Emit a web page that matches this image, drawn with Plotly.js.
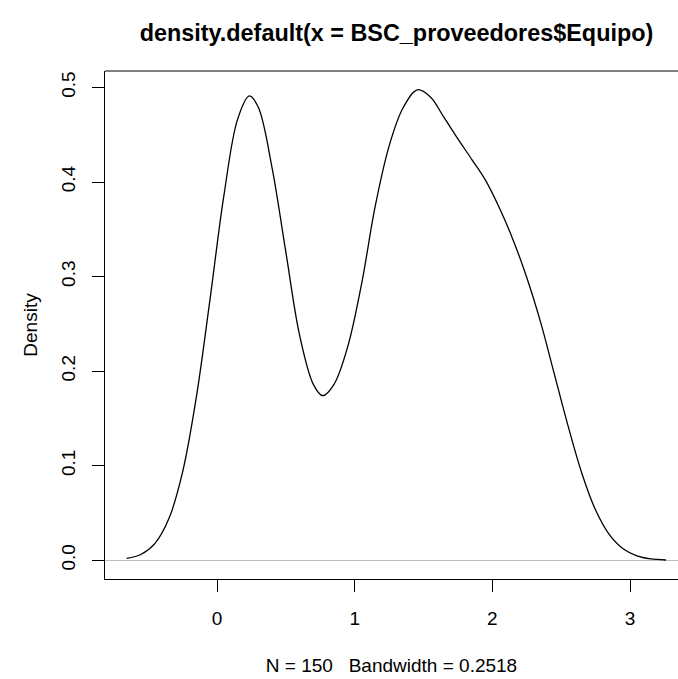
<!DOCTYPE html>
<html>
<head>
<meta charset="utf-8">
<script src="https://cdn.plot.ly/plotly-3.0.1.min.js"></script>
<style>
html, body { margin: 0; padding: 0; background: #fff; overflow: hidden; }
#chart { width: 678px; height: 679px; }
</style>
</head>
<body>
<div id="chart"></div>
<script>
// Density estimate
const densityX = [-0.656, -0.55, -0.45, -0.35, -0.25, -0.15, -0.05, 0.05, 0.15, 0.235,
  0.30, 0.40, 0.50, 0.60, 0.70, 0.768, 0.85, 0.95, 1.05, 1.15,
  1.25, 1.35, 1.455, 1.55, 1.65, 1.75, 1.85, 1.95, 2.05, 2.15,
  2.25, 2.35, 2.45, 2.55, 2.65, 2.75, 2.85, 2.95, 3.05, 3.15, 3.261];
const densityY = [0.0018, 0.0063, 0.0178, 0.0437, 0.0931, 0.1724, 0.2766, 0.3855, 0.4665, 0.491,
  0.479, 0.415, 0.326, 0.238, 0.186, 0.174, 0.186, 0.226, 0.292, 0.375,
  0.438, 0.478, 0.4975, 0.490, 0.468, 0.4455, 0.424, 0.402, 0.373, 0.339,
  0.299, 0.252, 0.197, 0.142, 0.092, 0.053, 0.027, 0.012, 0.0045, 0.0013, 0.0002];

const xTicks = [0, 1, 2, 3];
const yTicks = [0.0, 0.1, 0.2, 0.3, 0.4, 0.5];
const yTickLabels = ["0.0", "0.1", "0.2", "0.3", "0.4", "0.5"];

const chartTitle = "density.default(x = BSC_proveedores$Equipo)";
const xLabel = "N = 150\u00a0\u00a0\u00a0Bandwidth = 0.2518";
const yLabel = "Density";

const fontFamily = "'Liberation Sans', Arial, Helvetica, sans-serif";

const trace = {
  x: densityX,
  y: densityY,
  type: 'scatter',
  mode: 'lines',
  line: { color: '#000000', width: 1.3, shape: 'spline', smoothing: 1 },
  hoverinfo: 'skip',
  showlegend: false
};

const layout = {
  width: 678,
  height: 679,
  paper_bgcolor: '#ffffff',
  plot_bgcolor: '#ffffff',
  margin: { l: 105, r: 0, t: 71, b: 100, pad: 0 },
  font: { family: fontFamily, size: 19, color: '#000000' },
  title: {
    text: chartTitle,
    font: { family: fontFamily, size: 23.4, color: '#000000', weight: 'bold' },
    xref: 'paper', x: 0.5087, xanchor: 'center',
    yref: 'container', y: 1 - 33 / 679, yanchor: 'middle'
  },
  xaxis: {
    range: [-0.8135, 3.3486],
    tickmode: 'array',
    tickvals: xTicks,
    ticktext: xTicks.map(String),
    ticks: 'outside', ticklen: 12, tickwidth: 1, tickcolor: '#000000',
    ticklabelstandoff: 10,
    showline: true, linecolor: '#000000', linewidth: 1,
    showgrid: false, zeroline: false,
    title: { text: xLabel, standoff: 30, font: { family: fontFamily, size: 19 } },
    automargin: false, fixedrange: true
  },
  yaxis: {
    range: [-0.0199, 0.5174],
    tickmode: 'array',
    tickvals: yTicks,
    ticktext: yTickLabels,
    tickangle: -90,
    ticks: 'outside', ticklen: 12, tickwidth: 1, tickcolor: '#000000',
    ticklabelstandoff: 9,
    showline: true, linecolor: '#000000', linewidth: 1,
    showgrid: false,
    zeroline: true, zerolinecolor: '#bebebe', zerolinewidth: 1,
    title: { text: yLabel, standoff: 15, font: { family: fontFamily, size: 19 } },
    automargin: false, fixedrange: true
  },
  shapes: [
    { type: 'line', xref: 'paper', yref: 'paper', x0: 0, x1: 1, y0: 1, y1: 1,
      line: { color: '#000000', width: 1 } }
  ]
};

Plotly.newPlot('chart', [trace], layout, { displayModeBar: false, staticPlot: true });
</script>
</body>
</html>
